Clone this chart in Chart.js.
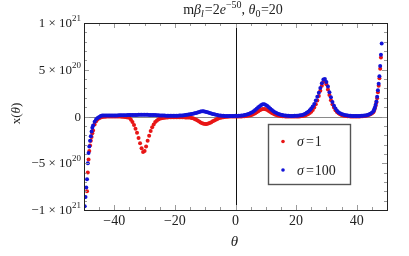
<!DOCTYPE html>
<html><head><meta charset="utf-8">
<script src="https://cdn.jsdelivr.net/npm/chart.js@4/dist/chart.umd.min.js"></script>
<style>html,body{margin:0;padding:0;background:#fff;overflow:hidden}canvas{display:block}</style>
</head><body>
<canvas id="c" width="409" height="256"></canvas>
<script>
// theta (x) values
const theta = [
-49.75,-49.5,-49.25,-49,-48.75,-48.5,-48.25,-48,-47.75,-47.5,-47.25,-47,
-46.5,-46,-45.5,-45,
-44.5,-44,-43.5,-43,-42.5,-42,-41.5,-41,-40.5,-40,
-39.5,-39,-38.5,-38,-37.5,-37,-36.5,-36,-35.5,-35,
-34.5,-34,-33.5,-33,-32.5,-32,-31.5,-31,-30.5,-30,
-29.5,-29,-28.5,-28,-27.5,-27,-26.5,-26,-25.5,-25,
-24.5,-24,-23.5,-23,-22.5,-22,-21.5,-21,-20.5,-20,
-19.5,-19,-18.5,-18,-17.5,-17,-16.5,-16,-15.5,-15,
-14.5,-14,-13.5,-13,-12.5,-12,-11.5,-11,-10.5,-10,
-9.5,-9,-8.5,-8,-7.5,-7,-6.5,-6,-5.5,-5,
-4.5,-4,-3.5,-3,-2.5,-2,-1.5,-1,-0.5,0,
0.5,1,1.5,2,2.5,3,3.5,4,4.5,5,
5.5,6,6.5,7,7.5,8,8.5,9,9.5,10,
10.5,11,11.5,12,12.5,13,13.5,14,14.5,15,
15.5,16,16.5,17,17.5,18,18.5,19,19.5,20,
20.5,21,21.5,22,22.5,23,23.5,24,24.5,25,
25.5,26,26.5,27,27.5,28,28.5,29,29.5,30,
30.5,31,31.5,32,32.5,33,33.5,34,34.5,35,
35.5,36,36.5,37,37.5,38,38.5,39,39.5,40,
40.5,41,41.5,42,42.5,43,43.5,44,44.5,45,
45.5,
45.75,46,46.25,46.5,46.75,47,47.25,47.5,47.75,48,48.25
];
// x(theta) in units of 1e20, sigma = 1
const sigma1 = [
null,null,null,-8.0,-6.0,-4.6,-3.7,-3.1,-2.6,-2.2,-1.8,-1.5,
-0.85,-0.5,-0.3,-0.18,
-0.1,-0.05,-0.03,-0.02,-0.01,0,0,0,0,0,
0,0,-0.01,-0.01,-0.02,-0.03,-0.05,-0.07,-0.1,-0.14,
-0.35,-0.6,-0.9,-1.3,-1.75,-2.3,-2.85,-3.4,-3.8,-3.7,
-3.2,-2.6,-2.05,-1.55,-1.15,-0.85,-0.6,-0.45,-0.33,-0.25,
-0.2,-0.16,-0.13,-0.11,-0.1,-0.09,-0.08,-0.08,-0.08,-0.08,
-0.08,-0.08,-0.08,-0.09,-0.09,-0.09,-0.1,-0.1,-0.11,-0.12,
-0.15,-0.2,-0.27,-0.35,-0.44,-0.54,-0.63,-0.71,-0.77,-0.8,
-0.79,-0.75,-0.69,-0.61,-0.52,-0.43,-0.34,-0.26,-0.19,-0.14,
-0.1,-0.07,-0.05,-0.03,-0.02,-0.01,0,0,0,0,
0,0,0.01,0.01,0.02,0.03,0.05,0.07,0.1,0.14,
0.19,0.26,0.35,0.45,0.56,0.66,0.74,0.79,0.8,0.77,
0.7,0.6,0.49,0.38,0.29,0.21,0.15,0.1,0.07,0.05,
0.03,0.02,0.01,0,0,-0.01,-0.01,-0.01,-0.01,0,
0,0.01,0.03,0.05,0.08,0.12,0.18,0.26,0.37,0.5,
0.7,0.95,1.3,1.7,2.2,2.75,3.3,3.7,3.8,3.45,
2.9,2.3,1.75,1.3,0.95,0.68,0.48,0.34,0.24,0.17,
0.12,0.08,0.05,0.03,0.02,0.01,0,0,0,0,
0,0.01,0.02,0.03,0.05,0.07,0.11,0.16,0.23,0.33,
0.46,
0.65,0.85,1.15,1.5,1.95,2.6,3.3,4.1,5.1,6.3,null
];
// x(theta) in units of 1e20, sigma = 100
const sigma100 = [
-9.6,-8.6,-7.6,-6.7,-5.0,-3.9,-3.2,-2.6,-2.1,-1.6,-1.2,-0.95,
-0.55,-0.3,-0.15,-0.05,
0.05,0.1,0.1,0.12,0.12,0.12,0.12,0.12,0.12,0.12,
0.12,0.12,0.13,0.13,0.13,0.14,0.14,0.14,0.15,0.15,
0.15,0.16,0.16,0.17,0.17,0.18,0.18,0.18,0.18,0.18,
0.18,0.18,0.17,0.17,0.16,0.15,0.15,0.14,0.13,0.12,
0.11,0.1,0.1,0.09,0.08,0.08,0.07,0.07,0.07,0.08,
0.08,0.09,0.1,0.11,0.12,0.14,0.16,0.18,0.21,0.24,
0.27,0.3,0.34,0.38,0.43,0.48,0.53,0.56,0.55,0.52,
0.48,0.43,0.38,0.33,0.28,0.23,0.19,0.15,0.12,0.1,
0.08,0.07,0.06,0.05,0.05,0.05,0.05,0.05,0.06,0.07,
0.06,0.07,0.08,0.1,0.12,0.15,0.19,0.24,0.3,0.37,
0.46,0.57,0.7,0.84,0.98,1.1,1.22,1.3,1.3,1.24,
1.12,0.98,0.84,0.7,0.57,0.46,0.37,0.3,0.24,0.19,
0.15,0.12,0.1,0.08,0.07,0.06,0.06,0.06,0.07,0.08,
0.08,0.1,0.13,0.17,0.22,0.3,0.4,0.52,0.67,0.85,
1.07,1.35,1.7,2.1,2.55,3.05,3.55,3.95,4.0,3.7,
3.2,2.6,2.05,1.55,1.15,0.85,0.62,0.46,0.35,0.27,
0.21,0.16,0.13,0.1,0.08,0.07,0.06,0.05,0.05,0.05,
0.05,0.06,0.07,0.08,0.1,0.12,0.16,0.22,0.3,0.4,
0.55,
0.75,0.95,1.25,1.6,2.1,2.8,3.5,4.3,5.4,6.6,7.8
];
const seriesSymbol = ['σ', 'σ'];
const seriesValue = ['1', '100'];
const xTickValues = [-40, -20, 0, 20, 40];
const xTickLabels = ['−40', '−20', '0', '20', '40'];
const yTickValues = [10, 5, 0, -5, -10];
const yTickMantissa = ['1 × 10', '5 × 10', '0', '−5 × 10', '−1 × 10'];
const yTickExponent = ['21', '20', '', '20', '21'];

const RED = 'rgb(232,22,22)';
const BLUE = 'rgb(18,18,215)';
const SERIF = '"Liberation Serif", "Times New Roman", serif';

function rich(ctx, parts, x, y, align) {
  let total = 0;
  parts.forEach(p => { ctx.font = p.f; p.w = ctx.measureText(p.t).width + (p.gap || 0); total += p.w; });
  let cx = align === 'right' ? x - total : align === 'center' ? x - total / 2 : x;
  parts.forEach(p => { ctx.font = p.f; ctx.fillText(p.t, cx + (p.pre || 0), y + (p.dy || 0)); cx += p.w; });
}

const mmaPlugin = {
  id: 'mma',
  beforeDatasetsDraw(chart) {
    const { ctx, chartArea: a, scales: { x, y } } = chart;
    ctx.save();
    const y0 = Math.round(y.getPixelForValue(0)) + 0.5;
    ctx.strokeStyle = '#8a8a8a'; ctx.lineWidth = 1;
    ctx.beginPath(); ctx.moveTo(a.left, y0); ctx.lineTo(a.right, y0); ctx.stroke();
    const x0 = Math.round(x.getPixelForValue(0)) + 0.5;
    ctx.strokeStyle = '#111';
    ctx.beginPath(); ctx.moveTo(x0, a.top); ctx.lineTo(x0, a.bottom); ctx.stroke();
    ctx.restore();
  },
  afterDatasetsDraw(chart) {
    const { ctx, chartArea: a, scales: { x, y } } = chart;
    ctx.save();
    // ticks
    ctx.strokeStyle = '#9a9a9a'; ctx.lineWidth = 1;
    ctx.beginPath();
    for (let v = -50; v <= 50; v += 5) {
      const px = Math.round(x.getPixelForValue(v)) + 0.5;
      const len = xTickValues.includes(v) ? 5 : 3;
      ctx.moveTo(px, a.bottom); ctx.lineTo(px, a.bottom - len);
      ctx.moveTo(px, a.top); ctx.lineTo(px, a.top + len);
    }
    for (let v = -10; v <= 10; v += 1) {
      const py = Math.round(y.getPixelForValue(v)) + 0.5;
      const len = yTickValues.includes(v) ? 5 : 3;
      ctx.moveTo(a.left, py); ctx.lineTo(a.left + len, py);
      ctx.moveTo(a.right, py); ctx.lineTo(a.right - len, py);
    }
    ctx.stroke();
    // frame
    ctx.strokeStyle = '#222';
    ctx.strokeRect(Math.round(a.left) + 0.5, Math.round(a.top) + 0.5, Math.round(a.right - a.left), Math.round(a.bottom - a.top));
    // tick labels
    ctx.fillStyle = '#222';
    ctx.textBaseline = 'alphabetic';
    ctx.textAlign = 'left';
    xTickValues.forEach((v, i) => {
      rich(ctx, [{ t: xTickLabels[i], f: '14px ' + SERIF }], x.getPixelForValue(v), a.bottom + 15, 'center');
    });
    yTickValues.forEach((v, i) => {
      const parts = [{ t: yTickMantissa[i], f: '13px ' + SERIF }];
      if (yTickExponent[i]) parts.push({ t: yTickExponent[i], f: '9px ' + SERIF, dy: -6 });
      rich(ctx, parts, a.left - 3, y.getPixelForValue(v) + 4, 'right');
    });
    // axis titles
    rich(ctx, [{ t: 'θ', f: 'italic 15px ' + SERIF }], (a.left + a.right) / 2 - 1, 246, 'center');
    ctx.save();
    ctx.translate(20, (a.top + a.bottom) / 2 - 3);
    ctx.rotate(-Math.PI / 2);
    rich(ctx, [{ t: 'x(', f: '13px ' + SERIF }, { t: 'θ', f: 'italic 13px ' + SERIF }, { t: ')', f: '13px ' + SERIF }], 0, 0, 'center');
    ctx.restore();
    // title
    const R = '14px ' + SERIF, I = 'italic 14px ' + SERIF, S = '10px ' + SERIF, SI = 'italic 10px ' + SERIF;
    rich(ctx, [
      { t: 'm', f: R }, { t: 'β', f: I }, { t: 'l', f: SI, dy: 3, gap: 1 }, { t: '=2', f: R }, { t: 'e', f: I },
      { t: '−50', f: S, dy: -6 }, { t: ', ', f: R }, { t: 'θ', f: I }, { t: '0', f: S, dy: 3, gap: 0.5 }, { t: '=20', f: R }
    ], 233, 14, 'center');
    // legend
    const lx = 268, ly = 124, lw = 82, lh = 60;
    ctx.fillStyle = '#fff';
    ctx.fillRect(lx, ly, lw, lh);
    ctx.strokeStyle = '#555'; ctx.lineWidth = 1.4;
    ctx.strokeRect(lx + 0.5, ly + 0.5, lw, lh);
    const cols = [RED, BLUE];
    seriesValue.forEach((val, i) => {
      const cy = ly + 17.5 + i * 28.5;
      ctx.fillStyle = cols[i];
      ctx.beginPath(); ctx.arc(lx + 15, cy, 1.8, 0, Math.PI * 2); ctx.fill();
      ctx.fillStyle = '#222';
      rich(ctx, [
        { t: seriesSymbol[i], f: 'italic 14px ' + SERIF, gap: 1 },
        { t: '=', f: '14px ' + SERIF, gap: 2, pre: 1 },
        { t: val, f: '14px ' + SERIF }
      ], lx + 29, cy + 4.5, 'left');
    });
    ctx.restore();
  }
};

const toPts = arr => theta.map((t, i) => ({ x: t, y: arr[i] })).filter(p => p.y !== null);

new Chart(document.getElementById('c').getContext('2d'), {
  type: 'scatter',
  data: {
    datasets: [
      { label: 'σ=1', data: toPts(sigma1), pointRadius: 2, pointBorderWidth: 0, pointBackgroundColor: RED, backgroundColor: RED, order: 2 },
      { label: 'σ=100', data: toPts(sigma100), pointRadius: 2, pointBorderWidth: 0, pointBackgroundColor: BLUE, backgroundColor: BLUE, order: 1 }
    ]
  },
  options: {
    responsive: false, animation: false, devicePixelRatio: 1, events: [],
    layout: { padding: { left: 84, right: 22, top: 23, bottom: 46 } },
    scales: {
      x: { type: 'linear', min: -50, max: 50, display: false },
      y: { type: 'linear', min: -10, max: 10, display: false }
    },
    plugins: { legend: { display: false }, tooltip: { enabled: false } }
  },
  plugins: [mmaPlugin]
});
</script>
</body></html>
